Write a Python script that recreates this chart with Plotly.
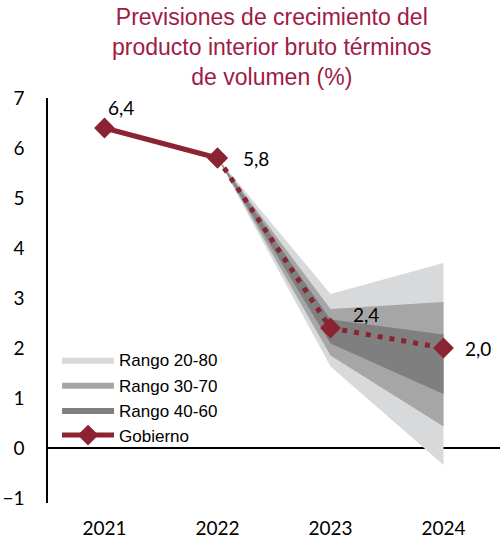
import plotly.graph_objects as go

years = ["2021", "2022", "2023", "2024"]
xpos = [0, 1, 2, 3]
gobierno = [6.4, 5.8, 2.4, 2.0]
labels = ["6,4", "5,8", "2,4", "2,0"]

# forecast ranges (from 2022 onward)
r20_80_low = [5.8, 1.63, -0.34]
r20_80_high = [5.8, 3.08, 3.70]
r30_70_low = [5.8, 1.85, 0.43]
r30_70_high = [5.8, 2.78, 2.92]
r40_60_low = [5.8, 2.09, 1.08]
r40_60_high = [5.8, 2.57, 2.27]

TITLE = "Previsiones de crecimiento del<br>producto interior bruto términos<br>de volumen (%)"

RED = "#8B2332"
LIGHT = "#D8D9DB"
MID = "#A6A6A6"
DARK = "#7F7F7F"
FONT_NUM = "Lato"

fig = go.Figure()

xr = xpos[1:]


def band(low, high, color, name):
    fig.add_trace(go.Scatter(
        x=xr + xr[::-1], y=high + low[::-1], fill="toself", fillcolor=color,
        mode="lines", line=dict(width=0, color=color), name=name,
        hoverinfo="skip"))


band(r20_80_low, r20_80_high, LIGHT, "Rango 20-80")
band(r30_70_low, r30_70_high, MID, "Rango 30-70")
band(r40_60_low, r40_60_high, DARK, "Rango 40-60")

# dotted forecast part
fig.add_trace(go.Scatter(
    x=xpos[1:], y=gobierno[1:], mode="lines+markers",
    line=dict(color=RED, width=5, dash="5px,7px"),
    marker=dict(symbol="diamond", size=16, color=RED),
    showlegend=False))

# solid part
fig.add_trace(go.Scatter(
    x=xpos[:2], y=gobierno[:2], mode="lines+markers",
    line=dict(color=RED, width=5),
    marker=dict(symbol="diamond", size=16, color=RED),
    name="Gobierno"))

shifts = [(16, 21), (38, 0), (35, 14), (34, 0)]
for xi, yi, t, (dx, dy) in zip(xpos, gobierno, labels, shifts):
    fig.add_annotation(x=xi, y=yi, text=t, showarrow=False,
                       xshift=dx, yshift=dy,
                       font=dict(family=FONT_NUM, size=19, color="black"))

# title as annotation (multi-line)
fig.add_annotation(text=TITLE, xref="paper", yref="paper", x=0.496, y=1.236,
                   xanchor="center", yanchor="top", showarrow=False, align="center",
                   font=dict(family="Liberation Sans", size=23, color="#9E1B46"))

fig.update_layout(
    width=500, height=539,
    margin=dict(l=48, r=0, t=98, b=34),
    paper_bgcolor="white", plot_bgcolor="white",
    xaxis=dict(range=[-0.5, 3.5], tickvals=xpos, ticktext=years,
               showgrid=False, zeroline=False, showline=False,
               ticks="", ticklabelstandoff=12,
               tickfont=dict(family=FONT_NUM, size=19, color="black")),
    yaxis=dict(range=[-1.1, 7.0], tickvals=list(range(-1, 8)),
               showgrid=False, zeroline=True, zerolinecolor="black",
               zerolinewidth=1.5, showline=True, linecolor="black",
               linewidth=1.5, ticks="", ticklabelstandoff=18,
               tickfont=dict(family=FONT_NUM, size=19, color="black")),
    legend=dict(x=0.02, y=0.397, xanchor="left", yanchor="top",
                bgcolor="rgba(0,0,0,0)", itemwidth=52,
                font=dict(family="Liberation Sans", size=17, color="black"),
                tracegroupgap=0),
    showlegend=True,
)

fig.write_html(
    "out.html",
    config={"displayModeBar": False},
    post_script="document.body.style.margin='0';document.body.style.overflow='hidden';"
                "document.documentElement.style.overflow='hidden';")
